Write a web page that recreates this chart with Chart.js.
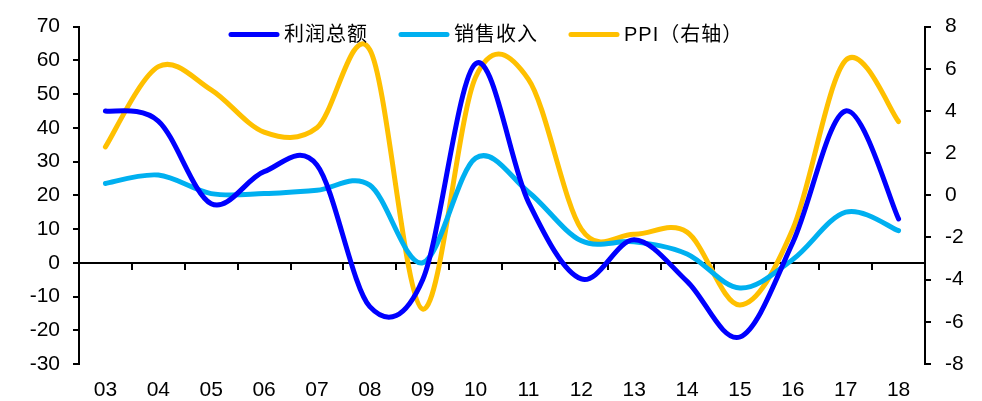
<!DOCTYPE html>
<html>
<head>
<meta charset="utf-8">
<script src="https://cdn.jsdelivr.net/npm/chart.js@4.4.0/dist/chart.umd.min.js"></script>
<style>
  html, body { margin: 0; padding: 0; background: #fff; }
  #wrap { position: relative; width: 982px; height: 401px; }
</style>
</head>
<body>
<div id="wrap"><canvas id="chart"></canvas></div>
<script>
// 年份（横轴）
const years = ["03", "04", "05", "06", "07", "08", "09", "10", "11", "12", "13", "14", "15", "16", "17", "18"];

// 左轴：利润总额、销售收入（%）
const profit = [45, 42, 17.5, 27, 29, -13, -5, 59, 18, -4.8, 6.8, -5.5, -22, 6, 45, 13];
const sales = [23.5, 26, 20.5, 20.5, 21.5, 23, 0, 31, 21, 6.5, 6.2, 2.6, -7.5, 1, 15, 9.5];

// 右轴：PPI（%）
const ppi = [2.3, 6.1, 5.0, 3.0, 3.2, 6.9, -5.4, 5.6, 5.5, -1.6, -1.85, -1.75, -5.2, -1.6, 6.4, 3.5];

const leftRange = { min: -30, max: 70, step: 10 };
const rightRange = { min: -8, max: 8, step: 2 };

const seriesNames = ["利润总额", "销售收入", "PPI（右轴）"];
const seriesColors = ["#0000FF", "#00B0F0", "#FFC000"];

const FONT = "'Liberation Sans', Arial, 'Noto Sans CJK SC', sans-serif";

/* Excel-style smoothing: uniform Catmull-Rom control points */
const smoothLines = {
  id: "smoothLines",
  beforeDatasetDraw(chart, args) {
    const meta = args.meta;
    const line = meta.dataset;
    if (!line || meta.type !== "line") return;
    line.updateControlPoints(chart.chartArea, "x");
    const pts = meta.data;
    for (let i = 0; i < pts.length; i++) {
      const cur = pts[i];
      const prev = pts[i - 1] || cur;
      const next = pts[i + 1] || cur;
      const dx = (next.x - prev.x) / 6;
      const dy = (next.y - prev.y) / 6;
      cur.cp1x = cur.x - dx;
      cur.cp1y = cur.y - dy;
      cur.cp2x = cur.x + dx;
      cur.cp2y = cur.y + dy;
    }
    line._path = undefined;
  },
};

/* Zero line with category separator ticks */
const zeroAxis = {
  id: "zeroAxis",
  beforeDatasetsDraw(chart) {
    const { ctx, chartArea, scales } = chart;
    const y0 = Math.round(scales.y.getPixelForValue(0));
    ctx.save();
    ctx.strokeStyle = "#000";
    ctx.lineWidth = 2;
    ctx.beginPath();
    ctx.moveTo(chartArea.left, y0);
    ctx.lineTo(chartArea.right, y0);
    for (let i = 0; i < years.length - 1; i++) {
      const x = Math.round((scales.x.getPixelForValue(i) + scales.x.getPixelForValue(i + 1)) / 2);
      ctx.moveTo(x, y0);
      ctx.lineTo(x, y0 + 7);
    }
    ctx.stroke();
    ctx.restore();
  },
};

/* Legend drawn inside the plot, across the top */
const topLegend = {
  id: "topLegend",
  afterDraw(chart) {
    const { ctx, chartArea } = chart;
    const lineLen = 50;
    const textGap = 5;
    const itemGap = 31;
    const y = chartArea.top + 8;
    let x = chartArea.left + 150;
    ctx.save();
    ctx.font = "20px " + FONT;
    ctx.letterSpacing = "1px";
    ctx.textBaseline = "middle";
    ctx.fillStyle = "#000";
    seriesNames.forEach((name, i) => {
      ctx.strokeStyle = seriesColors[i];
      ctx.lineWidth = 5;
      ctx.lineCap = "round";
      ctx.beginPath();
      ctx.moveTo(x + 2, y);
      ctx.lineTo(x + lineLen - 2, y);
      ctx.stroke();
      x += lineLen + textGap;
      ctx.fillText(name, x, y + 1);
      x += ctx.measureText(name).width + itemGap;
    });
    ctx.restore();
  },
};

function makeSeries(label, data, color, axis) {
  return {
    label,
    data,
    yAxisID: axis,
    borderColor: color,
    backgroundColor: color,
    borderWidth: 5,
    borderCapStyle: "round",
    borderJoinStyle: "round",
    pointRadius: 0,
    tension: 0.4,
    fill: false,
  };
}

new Chart(document.getElementById("chart"), {
  type: "line",
  data: {
    labels: years,
    datasets: [
      makeSeries(seriesNames[0], profit, seriesColors[0], "y"),
      makeSeries(seriesNames[1], sales, seriesColors[1], "y"),
      makeSeries(seriesNames[2], ppi, seriesColors[2], "y1"),
    ],
  },
  options: {
    responsive: true,
    maintainAspectRatio: false,
    animation: false,
    layout: { padding: { top: 24, left: 0, right: 0, bottom: 0 } },
    plugins: {
      legend: { display: false },
      tooltip: { enabled: false },
    },
    scales: {
      x: {
        offset: true,
        grid: { display: false, drawTicks: false },
        border: { display: false },
        ticks: {
          color: "#000",
          font: { family: FONT, size: 21 },
          padding: 14,
          maxRotation: 0,
          autoSkip: false,
        },
        afterFit: (scale) => { scale.height = 37; },
      },
      y: {
        position: "left",
        min: leftRange.min,
        max: leftRange.max,
        grid: { drawOnChartArea: false, color: "#000", lineWidth: 2, tickLength: 6 },
        border: { display: true, color: "#000", width: 2 },
        ticks: {
          stepSize: leftRange.step,
          color: "#000",
          font: { family: FONT, size: 21 },
          padding: 13,
        },
        afterFit: (scale) => { scale.width = 79; },
      },
      y1: {
        position: "right",
        min: rightRange.min,
        max: rightRange.max,
        grid: { drawOnChartArea: false, color: "#000", lineWidth: 2, tickLength: 6 },
        border: { display: true, color: "#000", width: 2 },
        ticks: {
          stepSize: rightRange.step,
          color: "#000",
          font: { family: FONT, size: 21 },
          padding: 14,
        },
        afterFit: (scale) => { scale.width = 57; },
      },
    },
  },
  plugins: [smoothLines, zeroAxis, topLegend],
});
</script>
</body>
</html>
